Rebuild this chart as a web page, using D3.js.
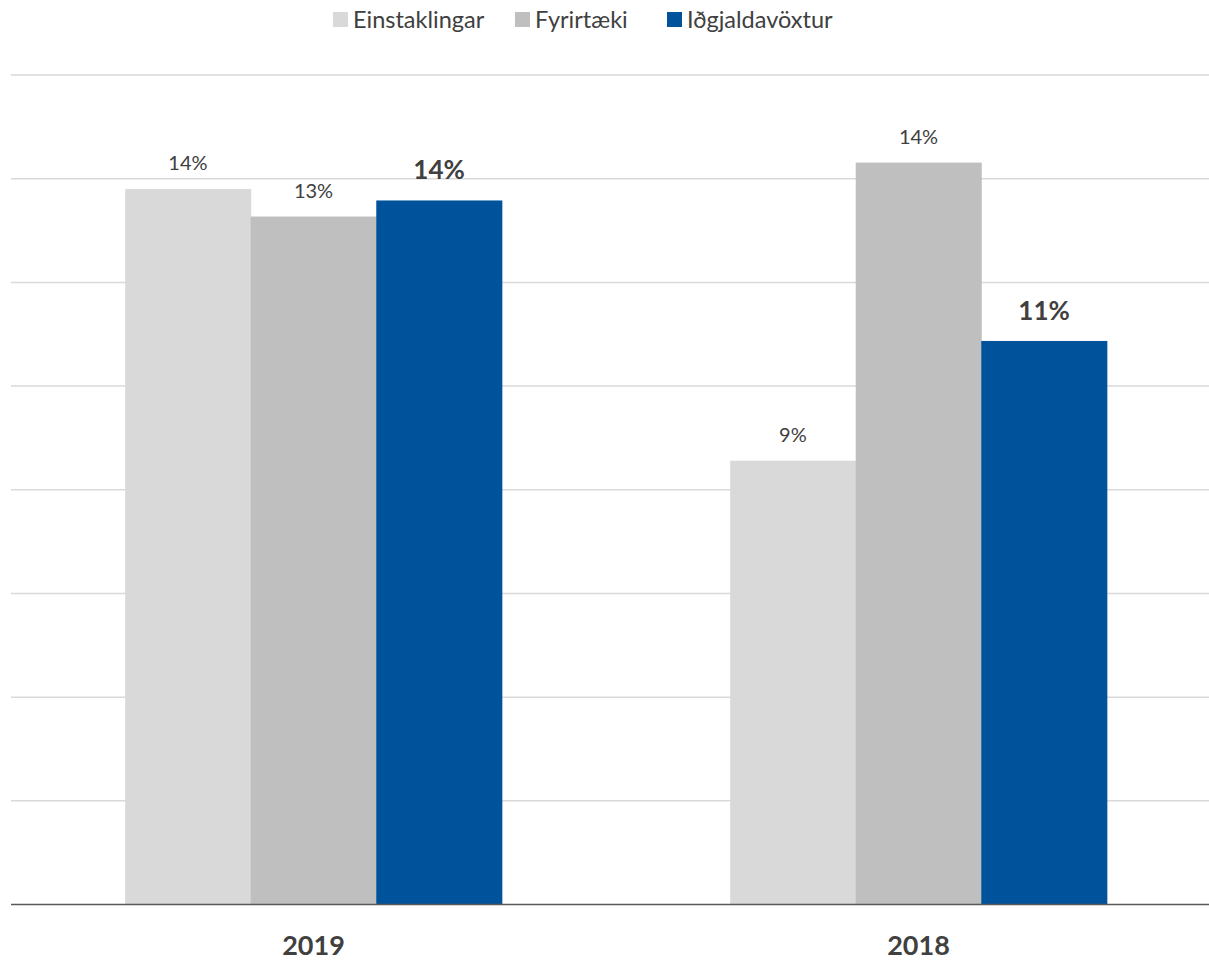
<!DOCTYPE html>
<html lang="is">
<head>
<meta charset="UTF-8">
<title>Iðgjaldavöxtur</title>
<script src="https://cdn.jsdelivr.net/npm/d3@7/dist/d3.min.js"></script>
<style>
  body { margin: 0; background: #fff; }
  svg { display: block; font-family: Lato, "Noto Sans", sans-serif; }
</style>
</head>
<body>
<svg id="chart" width="1209" height="961"></svg>
<script>
  // data
  const years = ["2019", "2018"];
  const seriesNames = ["Einstaklingar", "Fyrirtæki", "Iðgjaldavöxtur"];
  const einstaklingar = [0.138, 0.0856];
  const fyrirtaeki = [0.1327, 0.1431];
  const idgjaldavoxtur = [0.1358, 0.1087];
  const gridTicks = [0, 0.02, 0.04, 0.06, 0.08, 0.10, 0.12, 0.14, 0.16];

  const colors = ["#d9d9d9", "#bfbfbf", "#00529b"];
  const allSeries = [einstaklingar, fyrirtaeki, idgjaldavoxtur];

  const svg = d3.select("#chart");
  const plotTop = 75, plotBottom = 904.5;

  const y = d3.scaleLinear().domain([0, 0.16]).range([plotBottom, plotTop]);
  const x0 = d3.scaleBand().domain(years).range([11, 1221])
      .paddingInner(0.3774).paddingOuter(0.1887);
  const x1 = d3.scaleBand().domain(seriesNames).range([0, x0.bandwidth()]);
  const fmt = d3.format(".0%");

  // gridlines
  svg.append("g")
    .selectAll("line")
    .data(gridTicks.filter(d => d > 0))
    .join("line")
      .attr("x1", 11).attr("x2", 1209)
      .attr("y1", d => y(d)).attr("y2", d => y(d))
      .attr("stroke", "#d9d9d9")
      .attr("stroke-width", 1.5);

  // bars
  const groups = svg.append("g")
    .selectAll("g")
    .data(years)
    .join("g")
      .attr("transform", d => `translate(${x0(d)},0)`);

  groups.selectAll("rect")
    .data((yr, i) => seriesNames.map((s, j) => ({ s, j, v: allSeries[j][i] })))
    .join("rect")
      .attr("x", d => x1(d.s))
      .attr("width", x1.bandwidth() + 0.5)
      .attr("y", d => y(d.v))
      .attr("height", d => plotBottom - y(d.v))
      .attr("fill", d => colors[d.j]);

  // data labels
  groups.selectAll("text")
    .data((yr, i) => seriesNames.map((s, j) => ({ s, j, v: allSeries[j][i] })))
    .join("text")
      .attr("x", d => x1(d.s) + x1.bandwidth() / 2)
      .attr("y", d => y(d.v) - (d.j === 2 ? 21 : 19))
      .attr("text-anchor", "middle")
      .attr("fill", "#404040")
      .attr("font-size", d => d.j === 2 ? 26 : 20)
      .attr("font-weight", d => d.j === 2 ? "bold" : "normal")
      .text(d => fmt(d.v));

  // baseline
  svg.append("line")
    .attr("x1", 11).attr("x2", 1209)
    .attr("y1", plotBottom).attr("y2", plotBottom)
    .attr("stroke", "#595959")
    .attr("stroke-width", 1.5);

  // x axis labels
  svg.append("g")
    .selectAll("text")
    .data(years)
    .join("text")
      .attr("x", d => x0(d) + x0.bandwidth() / 2)
      .attr("y", 955)
      .attr("text-anchor", "middle")
      .attr("fill", "#404040")
      .attr("font-size", 27)
      .attr("font-weight", "bold")
      .text(d => d);

  // legend
  const legendX = [333, 515, 667];
  const legend = svg.append("g")
    .selectAll("g")
    .data(seriesNames)
    .join("g")
      .attr("transform", (d, i) => `translate(${legendX[i]},12)`);
  legend.append("rect")
    .attr("width", 15).attr("height", 15)
    .attr("fill", (d, i) => colors[i]);
  legend.append("text")
    .attr("x", 20).attr("y", 15.5)
    .attr("fill", "#404040")
    .attr("font-size", 23.5)
    .text(d => d);
</script>
</body>
</html>
